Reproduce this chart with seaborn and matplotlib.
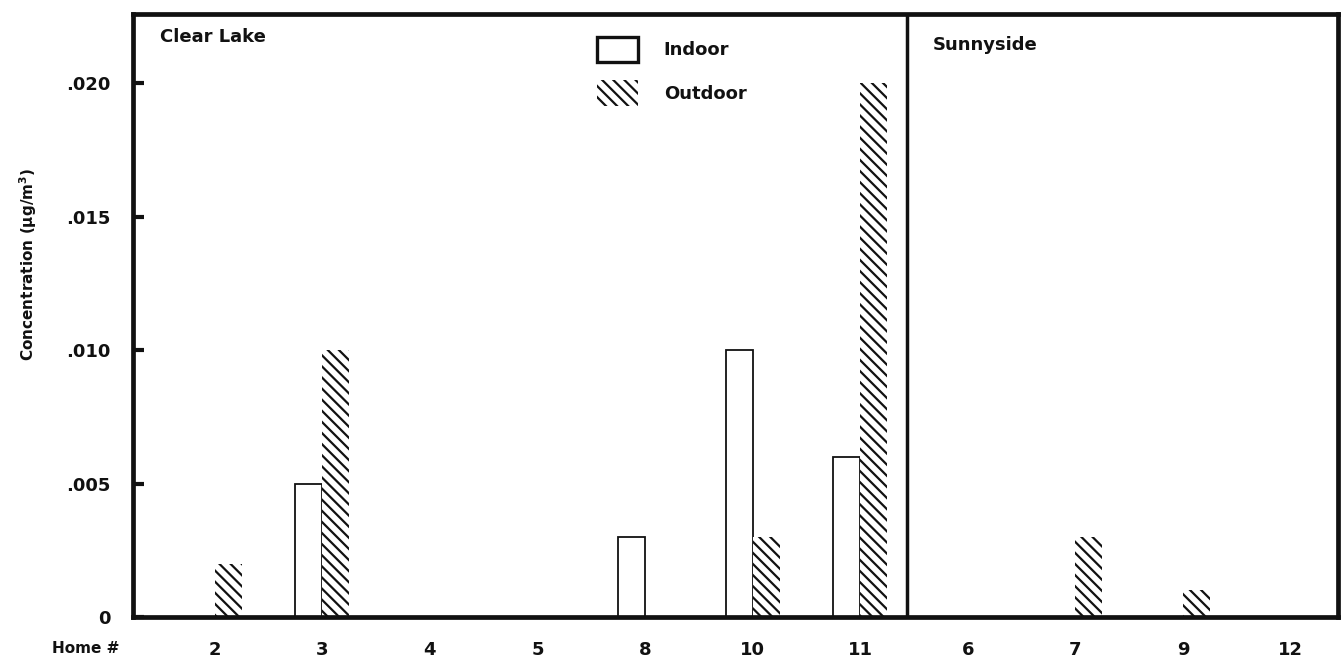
import pandas as pd
import matplotlib
matplotlib.use("Agg")
import matplotlib.pyplot as plt
from matplotlib.patches import Patch
import seaborn as sns

# Homes in the order they appear on the x axis
clear_lake_homes = ["2", "3", "4", "5", "8", "10", "11"]
sunnyside_homes = ["6", "7", "9", "12"]
homes = clear_lake_homes + sunnyside_homes

# Concentration in ug/m3
indoor = [0, 0.005, 0, 0, 0.003, 0.010, 0.006, 0, 0, 0, 0]
outdoor = [0.002, 0.010, 0, 0, 0, 0.003, 0.020, 0, 0.003, 0.001, 0]

y_ticks = [0, 0.005, 0.010, 0.015, 0.020]
y_tick_labels = ["0", ".005", ".010", ".015", ".020"]

df = pd.DataFrame({
    "home": homes * 2,
    "conc": indoor + outdoor,
    "type": ["Indoor"] * len(homes) + ["Outdoor"] * len(homes),
})

ink = "#111111"

sns.set_theme(style="white")
plt.rcParams["font.family"] = ["DejaVu Sans"]
plt.rcParams["font.weight"] = "bold"
plt.rcParams["hatch.linewidth"] = 1.6

fig = plt.figure(figsize=(13.43, 6.63), dpi=100)
ax = fig.add_axes([0.099, 0.0694, 0.8973, 0.9096])

sns.barplot(data=df, x="home", y="conc", hue="type", order=homes,
            hue_order=["Indoor", "Outdoor"], width=0.5, dodge=True,
            palette={"Indoor": "white", "Outdoor": "white"},
            edgecolor=ink, linewidth=1.3, legend=False, ax=ax)

hatch = "\\\\\\"
for bar in ax.containers[1]:
    bar.set_hatch(hatch)
    bar.set_linewidth(0)

ax.set_xlim(-0.76, 10.44)
ax.set_ylim(0, 0.0226)

# divider between the two areas
ax.axvline(len(clear_lake_homes) - 0.57, color=ink, lw=2.5)

for side in ["left", "right", "top", "bottom"]:
    ax.spines[side].set_linewidth(3.4)
    ax.spines[side].set_color(ink)

ax.set_yticks(y_ticks)
ax.set_yticklabels(y_tick_labels)
ax.tick_params(axis="y", direction="in", length=8, width=3, pad=16,
               labelsize=13, colors=ink, left=True)
ax.tick_params(axis="x", length=0, pad=17, labelsize=13, colors=ink)
for lbl in ax.get_xticklabels() + ax.get_yticklabels():
    lbl.set_fontweight("bold")

ax.set_xlabel("")
ax.set_ylabel("Concentration ($\\mathbf{\\mu}$g/m$^\\mathbf{3}$)", fontsize=11,
              fontweight="bold", color=ink)
ax.yaxis.set_label_coords(-0.078, 0.584)

fig.text(0.039, 0.0226, "Home #", fontsize=11, fontweight="bold",
         color=ink, va="center", ha="left")

ax.text(0.0224, 0.962, "Clear Lake", transform=ax.transAxes, fontsize=13,
        fontweight="bold", color=ink, va="center")
ax.text(0.664, 0.9486, "Sunnyside", transform=ax.transAxes, fontsize=13,
        fontweight="bold", color=ink, va="center")

handles = [
    Patch(facecolor="white", edgecolor=ink, linewidth=2.4, label="Indoor"),
    Patch(facecolor="white", edgecolor=ink, hatch=hatch, linewidth=0,
          label="Outdoor"),
]
ax.legend(handles=handles, loc="upper left", bbox_to_anchor=(0.3775, 0.977),
          frameon=False, fontsize=13, handlelength=2.3, handleheight=1.8,
          labelspacing=1.0, handletextpad=1.4, borderpad=0, labelcolor=ink)

fig.savefig("out.png", dpi=100)
